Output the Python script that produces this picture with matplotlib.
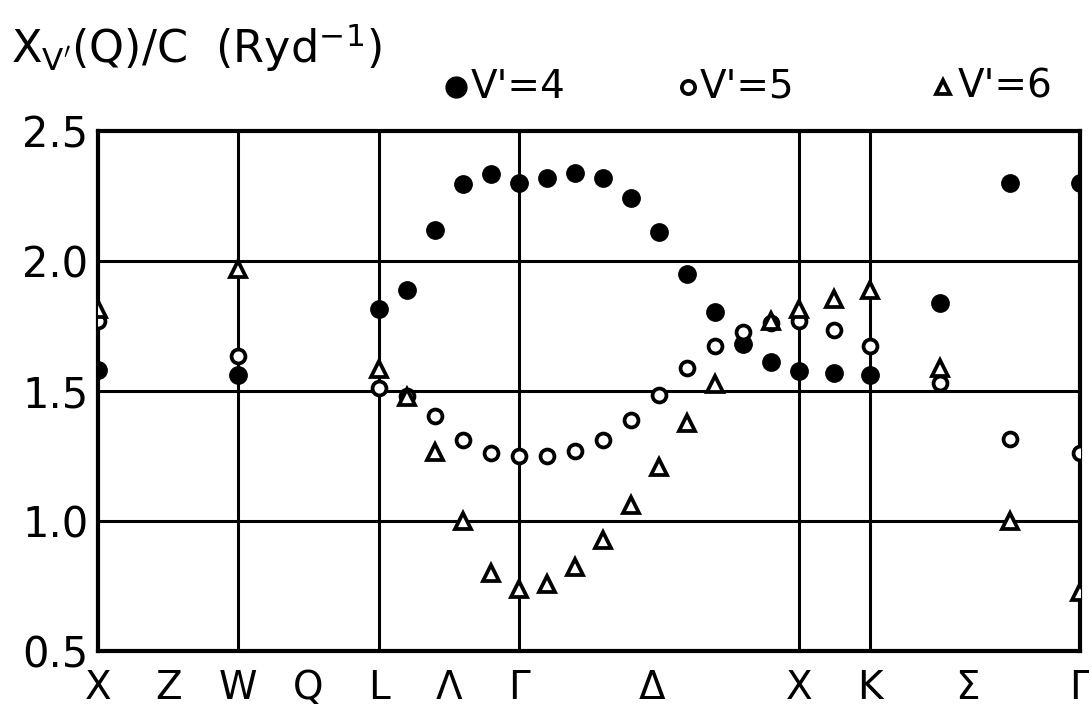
import numpy as np
import matplotlib
matplotlib.use("Agg")
import matplotlib.pyplot as plt

# path coordinate of each computed point (X=0, W=2, L=4, Gamma=6, X=10, K=11, Gamma=14)
q_pos = [0, 2, 4, 4.4, 4.8, 5.2, 5.6, 6.0, 6.4, 6.8, 7.2, 7.6, 8.0, 8.4, 8.8,
         9.2, 9.6, 10, 10.5, 11, 12, 13, 14]

chi_v4 = [1.58, 1.56, 1.815, 1.89, 2.12, 2.295, 2.335, 2.30, 2.32, 2.338, 2.32,
          2.24, 2.11, 1.95, 1.805, 1.68, 1.61, 1.575, 1.57, 1.56, 1.84, 2.30, 2.30]
chi_v5 = [1.77, 1.635, 1.51, 1.48, 1.404, 1.31, 1.26, 1.25, 1.25, 1.27, 1.31,
          1.39, 1.485, 1.59, 1.673, 1.727, 1.76, 1.77, 1.735, 1.673, 1.53, 1.315, 1.26]
chi_v6 = [1.815, 1.97, 1.585, 1.477, 1.265, 1.0, 0.80, 0.74, 0.757, 0.823, 0.927,
          1.06, 1.207, 1.377, 1.527, np.nan, 1.77, 1.815, 1.854, 1.89, 1.59, 1.0, 0.725]

sym_pos = [0, 1, 2, 3, 4, 5, 6, 7.9, 10, 11, 12.4, 14]
sym_labels = ["X", "Z", "W", "Q", "L", "Λ", "Γ", "Δ", "X", "K", "Σ", "Γ"]
vlines = [2, 4, 6, 10, 11]
hlines = [1.0, 1.5, 2.0]
yticks = [0.5, 1.0, 1.5, 2.0, 2.5]
ytick_labels = ["0.5", "1.0", "1.5", "2.0", "2.5"]

fig = plt.figure(figsize=(10.89, 7.06), dpi=100)
ax = fig.add_axes([0.09, 0.078, 0.9017, 0.7366])

for v in vlines:
    ax.axvline(v, color="black", lw=2.2, zorder=1)
for h in hlines:
    ax.axhline(h, color="black", lw=2.2, zorder=1)

ax.plot(q_pos, chi_v4, 'o', ls='none', ms=12.5, color='black', zorder=3)
ax.plot(q_pos, chi_v5, 'o', ls='none', ms=10, mfc='white', mec='black', mew=2.7, zorder=4)
ax.plot(q_pos, chi_v6, '^', ls='none', ms=11, mfc='white', mec='black', mew=2.7, zorder=5)

ax.set_xlim(0, 14)
ax.set_ylim(0.5, 2.5)
ax.set_xticks(sym_pos)
ax.set_xticklabels(sym_labels, fontsize=28)
ax.set_yticks(yticks)
ax.set_yticklabels(ytick_labels, fontsize=30)
ax.tick_params(axis='both', length=0)
ax.tick_params(axis='x', pad=13)
ax.tick_params(axis='y', pad=7)
for s in ax.spines.values():
    s.set_linewidth(3)

# title / y label
fig.text(0.010, 0.933, r"X$_{\mathsf{V'}}$(Q)/C  (Ryd$^{-1}$)", fontsize=32,
         ha='left', va='center')

# legend
ly = 1.085
ax.plot([0.365], [ly], 'o', ms=15, color='black', transform=ax.transAxes, clip_on=False)
ax.text(0.380, ly, "V'=4", transform=ax.transAxes, fontsize=28, va='center', ha='left')
ax.plot([0.601], [ly], 'o', ms=9.5, mfc='white', mec='black', mew=2.7,
        transform=ax.transAxes, clip_on=False)
ax.text(0.613, ly, "V'=5", transform=ax.transAxes, fontsize=28, va='center', ha='left')
ax.plot([0.861], [ly], '^', ms=10, mfc='white', mec='black', mew=2.7,
        transform=ax.transAxes, clip_on=False)
ax.text(0.875, ly, "V'=6", transform=ax.transAxes, fontsize=28, va='center', ha='left')

fig.savefig("out.png", dpi=100)
